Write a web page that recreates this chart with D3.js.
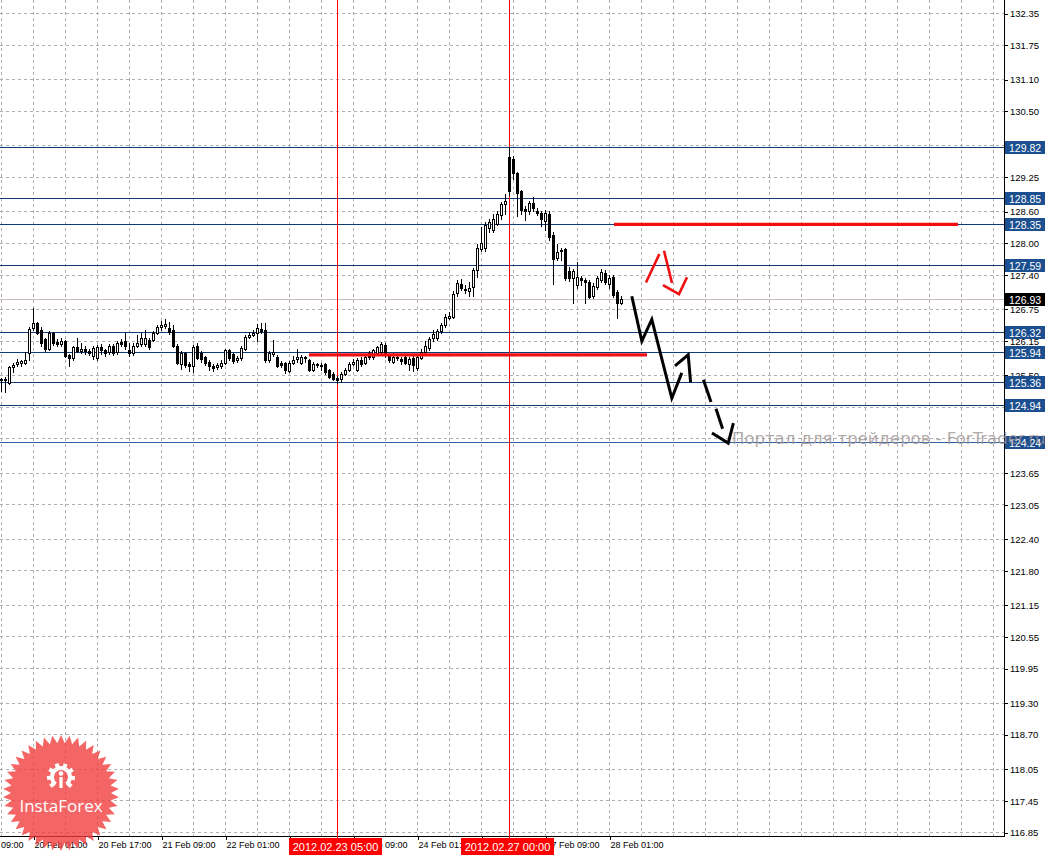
<!DOCTYPE html>
<html>
<head>
<meta charset="utf-8">
<script src="https://cdn.jsdelivr.net/npm/d3@7"></script>
<style>
  body { margin: 0; background: #fff; }
  svg { display: block; }
</style>
</head>
<body>
<div id="chart"></div>
<script>
// H1 candles, bar index 0 = 20 Feb 01:00
const firstBar = -8;
const opens = [125.40,125.41,125.35,125.65,125.70,125.73,125.72,125.91,
  126.38,126.48,126.35,126.18,126.00,126.29,126.13,126.09,126.14,125.88,125.82,126.03,125.95,125.99,125.95,125.85,
  125.82,126.03,125.97,125.93,126.05,125.93,126.13,126.14,125.97,125.91,126.05,126.09,126.09,126.17,126.16,126.29,
  126.41,126.43,126.38,126.35,126.05,125.71,125.92,125.71,125.67,126.05,125.92,125.84,125.75,125.67,125.65,125.66,
  125.73,125.97,125.90,125.78,125.82,126.00,126.22,126.26,126.29,126.37,126.35,125.79,125.90,125.84,125.73,125.73,
  125.58,125.72,125.80,125.73,125.84,125.78,125.60,125.71,125.68,125.70,125.60,125.52,125.45,125.42,125.51,125.60,
  125.71,125.60,125.79,125.73,125.92,125.84,125.92,125.94,126.07,125.86,125.75,125.84,125.80,125.84,125.71,125.82,
  125.63,125.82,125.94,126.01,126.20,126.20,126.33,126.44,126.58,126.60,127.05,127.22,127.13,127.08,127.16,127.49,
  127.88,127.90,128.28,128.25,128.36,128.53,128.73,129.62,129.58,129.33,128.99,128.64,128.60,128.76,128.61,128.57,
  128.42,128.55,128.14,127.72,127.87,127.88,127.46,127.33,127.20,127.34,127.30,127.26,127.00,127.17,127.30,127.43,
  127.22,127.35,127.07,126.87];
const highs = [125.45,125.46,125.67,125.72,125.80,125.78,125.93,126.40,
  126.77,126.50,126.40,126.20,126.33,126.32,126.18,126.20,126.16,125.90,126.05,126.20,126.10,126.05,126.00,126.05,
  126.06,126.08,126.00,126.08,126.08,126.15,126.18,126.29,126.10,126.10,126.25,126.30,126.35,126.20,126.33,126.45,
  126.52,126.55,126.50,126.44,126.08,125.95,125.94,125.75,126.06,126.10,125.95,125.86,125.78,125.70,125.72,125.78,
  126.00,126.00,125.92,125.86,126.05,126.26,126.32,126.35,126.47,126.48,126.48,125.95,126.16,125.88,125.76,125.75,
  125.76,125.85,126.00,125.88,125.86,125.80,125.74,125.73,125.72,125.72,125.62,125.55,125.48,125.55,125.64,125.74,
  125.80,125.82,125.84,125.88,125.96,126.00,126.05,126.12,126.10,125.88,125.92,125.86,125.84,125.86,125.84,125.88,
  125.87,126.00,126.15,126.22,126.35,126.37,126.48,126.65,126.70,127.08,127.30,127.32,127.20,127.25,127.53,127.98,
  128.30,128.40,128.46,128.55,128.60,128.78,128.92,129.82,129.64,129.35,129.00,128.70,128.80,128.86,128.66,128.60,
  128.62,128.60,128.20,127.97,127.90,127.90,127.55,127.50,127.64,127.38,127.33,127.30,127.24,127.38,127.50,127.48,
  127.40,127.40,127.10,127.00];
const lows = [125.20,125.18,125.33,125.55,125.66,125.66,125.70,125.78,
  126.35,126.27,126.05,125.95,125.97,126.06,126.05,126.05,125.84,125.67,125.78,125.93,125.92,125.90,125.88,125.80,
  125.78,125.90,125.85,125.90,125.88,125.90,126.05,126.00,125.85,125.88,126.02,126.05,126.05,126.00,126.14,126.27,
  126.35,126.38,126.28,126.02,125.70,125.62,125.65,125.58,125.55,125.80,125.75,125.68,125.60,125.58,125.62,125.63,
  125.70,125.78,125.73,125.75,125.78,125.98,126.20,126.24,126.14,126.30,125.75,125.75,125.85,125.65,125.65,125.54,
  125.55,125.70,125.75,125.70,125.75,125.58,125.58,125.65,125.60,125.52,125.44,125.40,125.35,125.36,125.49,125.58,
  125.68,125.58,125.66,125.70,125.80,125.80,125.88,125.92,125.84,125.75,125.72,125.78,125.70,125.70,125.60,125.58,
  125.60,125.80,125.92,125.98,126.15,126.16,126.30,126.40,126.55,126.58,127.00,127.10,127.05,127.00,127.00,127.35,
  127.85,127.85,128.20,128.20,128.33,128.45,128.55,128.90,129.21,128.50,128.55,128.43,128.55,128.60,128.52,128.32,
  128.25,128.05,127.23,127.68,127.68,127.30,127.28,126.86,127.15,127.20,126.86,126.95,126.96,127.13,127.25,127.22,
  127.15,126.98,126.58,126.85];
const closes = [125.42,125.43,125.65,125.68,125.74,125.76,125.78,126.37,
  126.48,126.29,126.10,125.99,126.29,126.10,126.09,126.14,125.86,125.82,126.03,125.95,125.99,125.95,125.92,126.01,
  126.03,125.97,125.92,126.05,125.92,126.10,126.09,126.05,125.92,126.05,126.10,126.20,126.20,126.03,126.29,126.41,
  126.45,126.46,126.32,126.05,125.73,125.92,125.69,125.67,126.03,125.82,125.80,125.73,125.67,125.64,125.68,125.73,
  125.97,125.82,125.77,125.82,126.01,126.22,126.26,126.29,126.39,126.33,125.79,125.92,125.94,125.67,125.69,125.60,
  125.73,125.78,125.84,125.84,125.82,125.60,125.71,125.69,125.66,125.56,125.47,125.43,125.41,125.51,125.60,125.71,
  125.75,125.79,125.71,125.84,125.84,125.97,126.03,126.09,125.88,125.79,125.84,125.82,125.76,125.73,125.80,125.69,
  125.84,125.94,126.05,126.18,126.28,126.33,126.44,126.60,126.62,127.03,127.24,127.15,127.10,127.15,127.49,127.91,
  127.99,128.34,128.40,128.46,128.55,128.74,128.80,128.99,129.32,128.95,128.62,128.60,128.76,128.66,128.57,128.45,
  128.57,128.12,127.70,127.82,127.84,127.33,127.33,127.46,127.35,127.30,127.26,126.98,127.19,127.34,127.45,127.26,
  127.33,127.02,126.86,126.93];

const priceTicks = [132.35,131.75,131.10,130.50,129.85,129.25,128.60,128.00,127.40,126.75,126.15,125.50,124.90,
  124.30,123.65,123.05,122.40,121.80,121.15,120.55,119.95,119.30,118.70,118.05,117.45,116.85];
const timeTickBars = [-16,0,16,32,48,64,80,96,112,128,144];
const timeTickLabels = ["17 Feb 09:00","20 Feb 01:00","20 Feb 17:00","21 Feb 09:00","22 Feb 01:00","22 Feb 17:00",
  "23 Feb 09:00","24 Feb 01:00","24 Feb 17:00","27 Feb 09:00","28 Feb 01:00"];

const levelPrices = [129.82,128.85,128.35,127.59,126.32,125.94,125.36,124.94,124.24];
const bidPrice = 126.93;
const markerBars = [76,119];
const markerLabels = ["2012.02.23 05:00","2012.02.27 00:00"];

// thick red horizontal segments (bar from, bar to, price)
const redFrom = [69,145.25];
const redTo = [153.5,231.25];
const redPrice = [125.88,128.35];

// hand-drawn forecast marks, [bar, price]
const blackPaths = [
  [[149.7,126.99],[152.2,126.14],[154.7,126.55],[159.7,125.06],[162.2,125.54]],
  [[160.5,125.67],[163.8,125.88],[164.4,125.36]],
  [[169.75,124.40],[173.8,124.21],[175.1,124.59]]
];
const blackDashes = [
  [[167.6,125.41],[169.5,124.99]],
  [[170.75,124.86],[172.4,124.48]]
];
const redPaths = [
  [[153.25,127.25],[156.6,127.79]],
  [[157.75,127.85],[159.75,127.24]],
  [[157.5,127.20],[161.5,127.03],[163.5,127.35]]
];

const W = 1045, H = 856;
const plotRight = 1004, plotBottom = 836;
const font = "'Liberation Sans', Arial, sans-serif";

const x = d3.scaleLinear().domain([-8, 242]).range([1, 1001]);
const y = d3.scaleLinear().domain([116.85, 132.35]).range([832, 13]);
const ry = p => Math.round(y(p));

const svg = d3.select("#chart").append("svg")
    .attr("width", W)
    .attr("height", H)
    .style("font-family", font);

svg.append("rect").attr("width", W).attr("height", H).attr("fill", "#fff");

const plot = svg.append("g");

// grid
const gridBars = d3.range(-8, 242, 8);
plot.append("g")
    .attr("stroke", "#b0b0b0")
    .attr("stroke-dasharray", "3,3")
    .attr("shape-rendering", "crispEdges")
  .selectAll("line")
  .data(gridBars)
  .join("line")
    .attr("x1", d => x(d) + 0.5).attr("x2", d => x(d) + 0.5)
    .attr("y1", 0).attr("y2", plotBottom);
plot.append("g")
    .attr("stroke", "#b0b0b0")
    .attr("stroke-dasharray", "3,3")
    .attr("shape-rendering", "crispEdges")
  .selectAll("line")
  .data(priceTicks)
  .join("line")
    .attr("x1", 0).attr("x2", plotRight)
    .attr("y1", d => ry(d) + 0.5).attr("y2", d => ry(d) + 0.5);

// horizontal levels
plot.append("g")
    .attr("shape-rendering", "crispEdges")
  .selectAll("line")
  .data(levelPrices)
  .join("line")
    .attr("x1", 0).attr("x2", plotRight)
    .attr("y1", d => ry(d) + 0.5).attr("y2", d => ry(d) + 0.5)
    .attr("stroke", (d, i) => i === levelPrices.length - 1 ? "#2e63a8" : "#0f3c78");

// bid line
plot.append("line")
    .attr("x1", 0).attr("x2", plotRight)
    .attr("y1", ry(bidPrice) + 0.5).attr("y2", ry(bidPrice) + 0.5)
    .attr("stroke", "#c9b9c9")
    .attr("shape-rendering", "crispEdges");

// vertical markers
plot.append("g")
    .attr("stroke", "#ff0000")
    .attr("shape-rendering", "crispEdges")
  .selectAll("line")
  .data(markerBars)
  .join("line")
    .attr("x1", d => x(d) + 0.5).attr("x2", d => x(d) + 0.5)
    .attr("y1", 0).attr("y2", plotBottom + 4);

// candles
const candles = opens.map((o, k) => ({
  bar: firstBar + k, o: o, h: highs[k], l: lows[k], c: closes[k]
}));
const cg = plot.append("g").attr("shape-rendering", "crispEdges");
cg.selectAll("line")
  .data(candles)
  .join("line")
    .attr("x1", d => x(d.bar) + 0.5).attr("x2", d => x(d.bar) + 0.5)
    .attr("y1", d => ry(d.h)).attr("y2", d => ry(d.l) + 1)
    .attr("stroke", "#000");
cg.selectAll("rect.bear")
  .data(candles.filter(d => d.c < d.o))
  .join("rect")
    .attr("class", "bear")
    .attr("x", d => x(d.bar) - 1)
    .attr("y", d => ry(d.o))
    .attr("width", 3)
    .attr("height", d => Math.max(1, ry(d.c) - ry(d.o) + 1))
    .attr("fill", "#000");
cg.selectAll("rect.bull")
  .data(candles.filter(d => d.c >= d.o))
  .join("rect")
    .attr("class", "bull")
    .attr("x", d => x(d.bar) - 0.5)
    .attr("y", d => ry(d.c) + 0.5)
    .attr("width", 2)
    .attr("height", d => Math.max(1, ry(d.o) - ry(d.c)))
    .attr("fill", "#fff")
    .attr("stroke", "#000");

// red levels
plot.append("g")
  .selectAll("line")
  .data(redPrice)
  .join("line")
    .attr("x1", (d, i) => x(redFrom[i])).attr("x2", (d, i) => x(redTo[i]))
    .attr("y1", d => y(d)).attr("y2", d => y(d))
    .attr("stroke", "#f01010")
    .attr("stroke-width", 3.4);

// forecast drawing
const line = d3.line().x(d => x(d[0])).y(d => y(d[1]));
plot.append("g")
  .selectAll("path")
  .data(blackPaths)
  .join("path")
    .attr("d", line)
    .attr("fill", "none")
    .attr("stroke", "#000")
    .attr("stroke-width", 3)
    .attr("stroke-linejoin", "miter");
plot.append("g")
  .selectAll("path")
  .data(blackDashes)
  .join("path")
    .attr("d", line)
    .attr("fill", "none")
    .attr("stroke", "#000")
    .attr("stroke-width", 3);
plot.append("g")
  .selectAll("path")
  .data(redPaths)
  .join("path")
    .attr("d", line)
    .attr("fill", "none")
    .attr("stroke", "#f01010")
    .attr("stroke-width", 2.6);

// axis area background
svg.append("rect").attr("x", plotRight).attr("y", 0).attr("width", W - plotRight).attr("height", H).attr("fill", "#fff");
svg.append("rect").attr("x", 0).attr("y", plotBottom).attr("width", W).attr("height", H - plotBottom).attr("fill", "#fff");

// labels hidden under a level box are not printed
const hiddenTick = v => levelPrices.some(p => Math.abs(y(p) - y(v)) < 4);

// right axis
const yAxis = d3.axisRight(y)
    .tickValues(priceTicks)
    .tickFormat(d => hiddenTick(d) ? "" : d3.format(".2f")(d))
    .tickSize(4)
    .tickSizeOuter(0);
const ya = svg.append("g")
    .attr("transform", `translate(${plotRight},0.5)`)
    .call(yAxis);
ya.select(".domain").remove();
ya.selectAll("line").attr("stroke", "#000").attr("shape-rendering", "crispEdges");
ya.selectAll("text")
    .attr("x", 6)
    .attr("dy", "0.34em")
    .attr("font-size", 9.5)
    .attr("font-family", font)
    .attr("fill", "#000");

// bottom axis; labels fully under a red date box are not printed
const coveredLabel = b => markerBars.some(m => Math.abs(x(m) - x(b)) < 50 && x(b) >= x(m) - 50 && x(b) + 50 <= x(m) + 50);
const xAxis = d3.axisBottom(x)
    .tickValues(timeTickBars)
    .tickFormat((d, i) => coveredLabel(d) ? "" : timeTickLabels[i])
    .tickSize(4)
    .tickSizeOuter(0);
const xa = svg.append("g")
    .attr("transform", `translate(0.5,${plotBottom})`)
    .call(xAxis);
xa.select(".domain").remove();
xa.selectAll("line").attr("stroke", "#000").attr("shape-rendering", "crispEdges");
xa.selectAll("text")
    .attr("text-anchor", "start")
    .attr("x", 0.5)
    .attr("y", 6)
    .attr("font-size", 9)
    .attr("font-family", font)
    .attr("fill", "#000");

// axis lines
svg.append("line").attr("x1", plotRight + 0.5).attr("x2", plotRight + 0.5).attr("y1", 0).attr("y2", plotBottom + 1)
    .attr("stroke", "#000").attr("shape-rendering", "crispEdges");
svg.append("line").attr("x1", 0).attr("x2", plotRight + 1).attr("y1", plotBottom + 0.5).attr("y2", plotBottom + 0.5)
    .attr("stroke", "#000").attr("shape-rendering", "crispEdges");

// red marker ticks on time axis
svg.append("g")
  .selectAll("line")
  .data(markerBars)
  .join("line")
    .attr("x1", d => x(d) + 0.5).attr("x2", d => x(d) + 0.5)
    .attr("y1", plotBottom).attr("y2", plotBottom + 4)
    .attr("stroke", "#ff0000")
    .attr("shape-rendering", "crispEdges");

// price labels on the axis
const levelLabel = svg.append("g").selectAll("g")
  .data(levelPrices)
  .join("g")
    .attr("transform", d => `translate(${plotRight + 1},${ry(d)})`);
levelLabel.append("rect")
    .attr("x", 0).attr("y", -6).attr("width", W - plotRight).attr("height", 13)
    .attr("fill", "#1b4f8f");
levelLabel.append("text")
    .attr("x", 4).attr("y", 4.5)
    .attr("font-size", 10.5)
    .attr("fill", "#fff")
    .text(d => d.toFixed(2));

const bidLabel = svg.append("g").attr("transform", `translate(${plotRight + 1},${ry(bidPrice)})`);
bidLabel.append("rect")
    .attr("x", 0).attr("y", -6).attr("width", W - plotRight).attr("height", 13)
    .attr("fill", "#000");
bidLabel.append("text")
    .attr("x", 4).attr("y", 4.5)
    .attr("font-size", 10.5)
    .attr("fill", "#fff")
    .text(bidPrice.toFixed(2));

// red date labels
const dateLabel = svg.append("g").selectAll("g")
  .data(markerBars)
  .join("g")
    .attr("transform", d => `translate(${x(d) - 2},${plotBottom + 2})`);
dateLabel.append("rect")
    .attr("x", -46).attr("y", 0).attr("width", 93).attr("height", 17)
    .attr("fill", "#ff0000");
dateLabel.append("text")
    .attr("x", 0.5).attr("y", 13)
    .attr("text-anchor", "middle")
    .attr("font-size", 11)
    .attr("fill", "#fff")
    .text((d, i) => markerLabels[i]);

// watermark, on top of everything
svg.append("text")
    .attr("x", 732).attr("y", 444)
    .attr("font-family", "'DejaVu Sans', sans-serif")
    .attr("font-size", 16.5)
    .attr("fill", "#9e9393")
    .attr("fill-opacity", 0.8)
    .text("Портал для трейдеров - ForTrader.ru");

// InstaForex badge
const badge = svg.append("g")
    .attr("transform", "translate(61,793)")
    .attr("opacity", 0.78);
const nPts = 42, rOut = 58, rIn = 50;
const starPts = d3.range(nPts * 2).map(k => {
  const a = k * Math.PI / nPts - Math.PI / 2;
  const r = k % 2 === 0 ? rOut : rIn;
  return [r * Math.cos(a), r * Math.sin(a)];
});
badge.append("path")
    .attr("d", d3.line()(starPts) + "Z")
    .attr("fill", "#f23c3c");
const gear = badge.append("g").attr("transform", "translate(0,-16)");
gear.append("path")
    .attr("d", d3.arc().innerRadius(7).outerRadius(11).startAngle(-2.5).endAngle(2.5)())
    .attr("fill", "#fff");
gear.selectAll("rect")
  .data(d3.range(-2.3, 2.4, 0.66))
  .join("rect")
    .attr("x", -2).attr("y", -14).attr("width", 4).attr("height", 5)
    .attr("transform", d => `rotate(${d * 180 / Math.PI})`)
    .attr("fill", "#fff");
gear.append("circle").attr("cx", 0).attr("cy", -3.5).attr("r", 2.3).attr("fill", "#fff");
gear.append("rect").attr("x", -1.6).attr("y", 0).attr("width", 3.2).attr("height", 11).attr("fill", "#fff");
badge.append("text")
    .attr("x", 0).attr("y", 19)
    .attr("text-anchor", "middle")
    .attr("font-family", "'Open Sans', sans-serif")
    .attr("font-size", 17)
    .attr("fill", "#fff")
    .text("InstaForex");
</script>
</body>
</html>
